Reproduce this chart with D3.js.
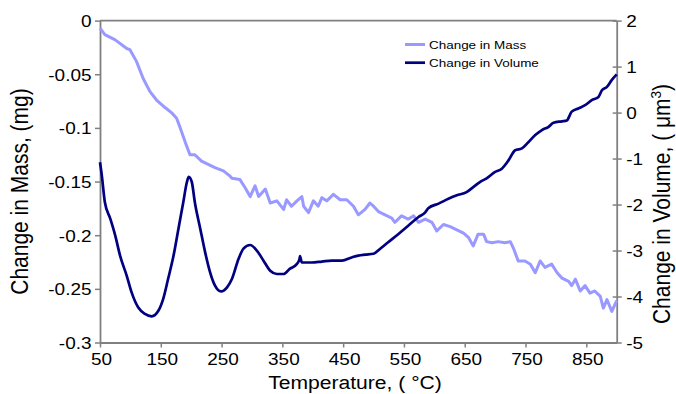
<!DOCTYPE html>
<html>
<head>
<meta charset="utf-8">
<script src="https://cdn.jsdelivr.net/npm/d3@7"></script>
<style>
  body { margin: 0; background: #fff; }
  text { font-family: 'Liberation Sans', Arial, sans-serif; fill: #000; }
</style>
</head>
<body>
<div id="chart"></div>
<script>
// temperature (°C) and change in mass (mg)
const massTemp = [50, 58, 75, 94, 99, 110, 121, 132, 143, 157, 168, 176, 182, 190, 198, 206, 217, 228, 239, 253,
  264, 267, 280, 289, 297, 305, 311, 322, 330, 341, 352, 357, 365, 374, 382, 385, 393, 401, 409, 415,
  423, 434, 445, 456, 467, 475, 486, 494, 500, 508, 519, 530, 535, 546, 557, 566, 574, 585, 596, 604,
  615, 626, 637, 648, 656, 664, 672, 681, 686, 695, 705, 716, 725, 730, 738, 749, 758, 766, 774, 782,
  793, 802, 810, 821, 826, 832, 840, 848, 856, 864, 873, 878, 884, 892, 900];
const massVal = [-0.007, -0.013, -0.018, -0.026, -0.027, -0.038, -0.054, -0.066, -0.074, -0.081, -0.086, -0.091, -0.100, -0.113, -0.125, -0.125, -0.131, -0.134, -0.137, -0.140,
  -0.145, -0.147, -0.148, -0.156, -0.164, -0.154, -0.164, -0.157, -0.170, -0.168, -0.176, -0.167, -0.173, -0.168, -0.164, -0.173, -0.179, -0.168, -0.173, -0.165,
  -0.168, -0.162, -0.167, -0.167, -0.173, -0.181, -0.176, -0.170, -0.173, -0.178, -0.181, -0.184, -0.188, -0.182, -0.185, -0.182, -0.188, -0.185, -0.188, -0.196,
  -0.190, -0.192, -0.195, -0.198, -0.202, -0.210, -0.199, -0.199, -0.206, -0.207, -0.206, -0.207, -0.206, -0.212, -0.224, -0.224, -0.227, -0.235, -0.224, -0.230,
  -0.227, -0.235, -0.240, -0.243, -0.247, -0.241, -0.252, -0.247, -0.254, -0.252, -0.257, -0.268, -0.260, -0.271, -0.261];

// temperature (°C) and change in volume (µm³)
const volTemp = [50, 53, 58, 67, 75, 83, 94, 102, 113, 124, 135, 146, 154, 162, 171, 179, 187, 193, 196, 201,
  206, 215, 223, 231, 239, 249, 259, 267, 278, 286, 297, 308, 319, 330, 341, 352, 362, 374, 378, 379,
  382, 398, 415, 431, 448, 464, 475, 486, 500, 511, 524, 541, 557, 574, 585, 590, 607, 624, 637, 653,
  664, 675, 686, 700, 711, 722, 733, 744, 755, 766, 777, 788, 796, 810, 818, 826, 837, 848, 859, 870,
  876, 884, 892, 900];
const volVal = [-1.08, -1.37, -1.95, -2.31, -2.67, -3.11, -3.55, -3.91, -4.24, -4.38, -4.43, -4.31, -4.05, -3.62, -3.11, -2.53, -1.95, -1.51, -1.40, -1.51,
  -1.95, -2.53, -3.04, -3.47, -3.76, -3.89, -3.80, -3.62, -3.18, -2.96, -2.88, -3.00, -3.22, -3.44, -3.51, -3.51, -3.40, -3.29, -3.20, -3.12,
  -3.26, -3.26, -3.24, -3.22, -3.22, -3.15, -3.11, -3.09, -3.07, -2.96, -2.82, -2.64, -2.46, -2.27, -2.17, -2.08, -1.98, -1.87, -1.80, -1.73,
  -1.62, -1.51, -1.43, -1.29, -1.22, -1.04, -0.82, -0.78, -0.64, -0.49, -0.38, -0.31, -0.22, -0.19, -0.17, 0.02, 0.09, 0.16, 0.27, 0.34,
  0.49, 0.56, 0.71, 0.83];

const tempTicks = [50, 150, 250, 350, 450, 550, 650, 750, 850];
const massTicks = [0, -0.05, -0.1, -0.15, -0.2, -0.25, -0.3];
const massTickLabels = ['0', '-0.05', '-0.1', '-0.15', '-0.2', '-0.25', '-0.3'];
const volTicks = [2, 1, 0, -1, -2, -3, -4, -5];
const volTickLabels = ['2', '1', '0', '-1', '-2', '-3', '-4', '-5'];
const seriesNames = ['Change in Mass', 'Change in Volume'];
const seriesColors = ['#9999ff', '#000080'];

const width = 676, height = 394;
const plotLeft = 100, plotRight = 616.7, plotTop = 20.6, plotBottom = 342.5;
const stretch = 1.15;

const x = d3.scaleLinear().domain([50, 900]).range([plotLeft, plotRight]);
const yMass = d3.scaleLinear().domain([-0.3, 0]).range([plotBottom, plotTop]);
const yVol = d3.scaleLinear().domain([-5, 2]).range([plotBottom, plotTop]);

const svg = d3.select('#chart')
  .append('svg')
  .attr('width', width)
  .attr('height', height)
  .style('display', 'block');

svg.append('rect').attr('width', width).attr('height', height).attr('fill', '#fff');

// frame top edge
svg.append('line')
  .attr('x1', plotLeft).attr('x2', plotRight)
  .attr('y1', plotTop).attr('y2', plotTop)
  .attr('stroke', '#808080').attr('stroke-width', 1.8);

const styleAxis = g => {
  g.select('.domain').attr('stroke', '#808080').attr('stroke-width', 1.8);
  g.selectAll('.tick line').attr('stroke', '#808080').attr('stroke-width', 1.5);
  g.selectAll('.tick text')
    .attr('fill', '#000')
    .style('font-size', '16.5px')
    .style('font-family', "'Liberation Sans', Arial, sans-serif")
    .attr('x', 0).attr('y', 0).attr('dy', null);
};

const gLeft = svg.append('g')
  .attr('transform', `translate(${plotLeft},0)`)
  .call(d3.axisLeft(yMass).tickValues(massTicks).tickSize(5).tickSizeOuter(0)
    .tickFormat((d, i) => massTickLabels[i]));
styleAxis(gLeft);
gLeft.selectAll('.tick text')
  .attr('text-anchor', 'end')
  .attr('transform', `translate(-8.5,6) scale(${stretch},1)`);

const gBottom = svg.append('g')
  .attr('transform', `translate(0,${plotBottom})`)
  .call(d3.axisBottom(x).tickValues(tempTicks).tickSize(5).tickSizeOuter(0));
styleAxis(gBottom);
gBottom.selectAll('.tick text')
  .attr('text-anchor', 'middle')
  .attr('transform', `translate(1,22.5) scale(${stretch},1)`);

const gRight = svg.append('g')
  .attr('transform', `translate(${plotRight},0)`)
  .call(d3.axisRight(yVol).tickValues(volTicks).tickSize(5).tickSizeOuter(0)
    .tickFormat((d, i) => volTickLabels[i]));
styleAxis(gRight);
gRight.selectAll('.tick line').attr('x1', -4);
gRight.selectAll('.tick text')
  .attr('text-anchor', 'start')
  .attr('transform', `translate(9.5,6) scale(${stretch},1)`);

// series
const massLine = d3.line().x((d, i) => x(massTemp[i])).y(d => yMass(d));
const volLine = d3.line().x((d, i) => x(volTemp[i])).y(d => yVol(d))
  .curve(d3.curveMonotoneX);

svg.append('path')
  .attr('d', massLine(massVal))
  .attr('fill', 'none')
  .attr('stroke', seriesColors[0])
  .attr('stroke-width', 3)
  .attr('stroke-linejoin', 'round');

svg.append('path')
  .attr('d', volLine(volVal))
  .attr('fill', 'none')
  .attr('stroke', seriesColors[1])
  .attr('stroke-width', 2.7)
  .attr('stroke-linejoin', 'round');

// legend
const legend = svg.append('g');
seriesNames.forEach((name, i) => {
  const ly = 44.5 + i * 18.2;
  legend.append('line')
    .attr('x1', 405).attr('x2', 425)
    .attr('y1', ly).attr('y2', ly)
    .attr('stroke', seriesColors[i]).attr('stroke-width', i === 0 ? 3 : 2.7);
  legend.append('text')
    .attr('transform', `translate(429,${ly + 4.3}) scale(${stretch},1)`)
    .style('font-size', '11.7px')
    .text(name);
});

// axis titles
svg.append('text')
  .attr('transform', `translate(355,389) scale(1.135,1)`)
  .attr('text-anchor', 'middle')
  .style('font-size', '18.6px')
  .text('Temperature, ( \u00b0C)');

svg.append('text')
  .attr('transform', 'translate(28.3,191.5) rotate(-90) scale(1,1.1)')
  .attr('text-anchor', 'middle')
  .style('font-size', '21px')
  .text('Change in Mass, (mg)');

const rt = svg.append('text')
  .attr('transform', 'translate(670,204) rotate(-90) scale(1,1.1)')
  .attr('text-anchor', 'middle')
  .style('font-size', '21px');
rt.append('tspan').text('Change in Volume, ( \u03bcm');
rt.append('tspan').attr('dy', -8).style('font-size', '13.5px').text('3');
rt.append('tspan').attr('dy', 8).text(')');
</script>
</body>
</html>
